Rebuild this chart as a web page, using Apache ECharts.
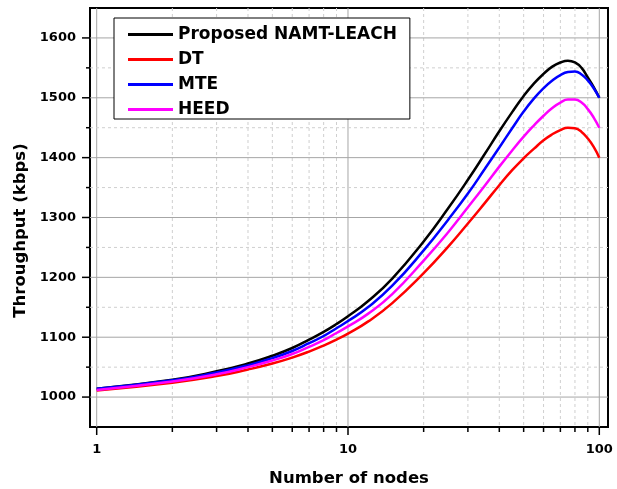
<!DOCTYPE html>
<html>
<head>
<meta charset="utf-8">
<title>Throughput vs number of nodes</title>
<script src="https://cdn.jsdelivr.net/npm/echarts@6/dist/echarts.min.js"></script>
<style>
  html, body { margin: 0; padding: 0; background: #fff; }
  #chart { width: 617px; height: 489px; }
</style>
</head>
<body>
<div id="chart"></div>
<script>
// Number of nodes (x, log scale)
const nodes = [1, 2, 3, 4, 5, 6, 7, 8, 9, 10, 12, 15, 20, 25, 30, 35, 40, 45, 50, 55, 60, 65, 70, 75, 80, 85, 90, 95, 100];

// Throughput (kbps) per protocol
const namtLeach = [1014, 1029, 1043, 1056, 1069, 1082, 1096, 1109, 1122, 1135, 1160, 1198, 1260, 1315, 1363, 1406, 1444, 1476, 1503, 1524, 1540, 1552, 1559, 1562, 1559, 1550, 1534, 1518, 1500];
const dt        = [1011, 1024, 1035, 1046, 1056, 1066, 1076, 1086, 1096, 1106, 1126, 1157, 1207, 1251, 1290, 1324, 1354, 1379, 1399, 1415, 1429, 1439, 1446, 1450, 1449, 1443, 1432, 1418, 1400];
const mte       = [1014, 1028, 1041, 1053, 1065, 1077, 1090, 1102, 1115, 1127, 1150, 1186, 1245, 1296, 1340, 1381, 1417, 1449, 1477, 1499, 1516, 1529, 1538, 1543, 1544, 1539, 1529, 1516, 1500];
const heed      = [1012, 1026, 1038, 1050, 1061, 1072, 1084, 1095, 1107, 1118, 1139, 1172, 1228, 1275, 1317, 1353, 1385, 1412, 1435, 1454, 1470, 1483, 1492, 1497, 1497, 1492, 1481, 1467, 1450];

const seriesNames = ['Proposed NAMT-LEACH', 'DT', 'MTE', 'HEED'];

// Tick positions
const xMajorTicks = [1, 10, 100];
const xMinorTicks = [2, 3, 4, 5, 6, 7, 8, 9, 20, 30, 40, 50, 60, 70, 80, 90];
const yMajorTicks = [1000, 1100, 1200, 1300, 1400, 1500, 1600];
const yMinorTicks = [1050, 1150, 1250, 1350, 1450, 1550];

const FONT = 'DejaVu Sans';
const MAJOR_GRID = '#a6a6a6';
const MINOR_GRID = '#cfcfcf';

function pairs(xs, ys) { return xs.map((x, i) => [x, ys[i]]); }

// Vertical grid line + downward tick at an x value
function xGridRenderer(dashed, tickLen) {
  return function (params, api) {
    const cs = params.coordSys;
    const x = api.coord([api.value(0), 1000])[0];
    const bottom = cs.y + cs.height;
    return {
      type: 'group',
      children: [
        { type: 'line', shape: { x1: x, y1: cs.y, x2: x, y2: bottom },
          style: { stroke: dashed ? MINOR_GRID : MAJOR_GRID, lineWidth: 1, lineDash: dashed ? [3, 3] : null } },
        { type: 'line', shape: { x1: x, y1: bottom, x2: x, y2: bottom + tickLen },
          style: { stroke: '#000', lineWidth: 1.5 } }
      ]
    };
  };
}

// Horizontal grid line + leftward tick at a y value
function yGridRenderer(dashed, tickLen) {
  return function (params, api) {
    const cs = params.coordSys;
    const y = api.coord([1, api.value(1)])[1];
    return {
      type: 'group',
      children: [
        { type: 'line', shape: { x1: cs.x, y1: y, x2: cs.x + cs.width, y2: y },
          style: { stroke: dashed ? MINOR_GRID : MAJOR_GRID, lineWidth: 1, lineDash: dashed ? [3, 3] : null } },
        { type: 'line', shape: { x1: cs.x - tickLen, y1: y, x2: cs.x, y2: y },
          style: { stroke: '#000', lineWidth: 1.5 } }
      ]
    };
  };
}

function gridSeries(data, renderer) {
  return { type: 'custom', renderItem: renderer, data: data, z: 1, silent: true, clip: false, legendHoverLink: false, tooltip: { show: false } };
}

function curve(name, values, color) {
  return {
    name: name, type: 'line', data: pairs(nodes, values), smooth: true,
    symbol: 'none', z: 5, lineStyle: { color: color, width: 2.5 }, itemStyle: { color: color }
  };
}

const chart = echarts.init(document.getElementById('chart'), null, { renderer: 'canvas' });

chart.setOption({
  animation: false,
  backgroundColor: '#fff',
  grid: {
    left: 90, right: 9, top: 8, bottom: 62, outerBoundsMode: 'none',
    show: true, borderColor: '#000', borderWidth: 2, backgroundColor: 'transparent'
  },
  legend: {
    data: seriesNames, orient: 'vertical', left: 114, top: 18,
    icon: 'rect', itemWidth: 45, itemHeight: 3, itemGap: 8,
    padding: [8, 13, 1, 14], borderColor: '#000', borderWidth: 1, backgroundColor: '#fff',
    textStyle: { fontFamily: FONT, fontWeight: 'bold', fontSize: 17, color: '#000' }
  },
  xAxis: {
    type: 'log', logBase: 10, min: 0.9405, max: 108.3,
    name: 'Number of nodes', nameLocation: 'middle', nameGap: 43,
    nameTextStyle: { fontFamily: FONT, fontWeight: 'bold', fontSize: 16.5, color: '#000' },
    axisLine: { lineStyle: { color: '#000', width: 2 } },
    axisTick: { show: false }, splitLine: { show: false },
    axisLabel: {
      margin: 16, fontFamily: FONT, fontWeight: 'bold', fontSize: 13, color: '#000',
      formatter: function (v) {
        const l = Math.log10(v);
        return Math.abs(l - Math.round(l)) < 1e-6 ? String(Math.round(v)) : '';
      }
    }
  },
  yAxis: {
    type: 'value', min: 950, max: 1650, interval: 50,
    name: 'Throughput (kbps)', nameLocation: 'middle', nameGap: 57,
    nameTextStyle: { fontFamily: FONT, fontWeight: 'bold', fontSize: 16.5, color: '#000', padding: [0, 26, 0, 0] },
    axisLine: { show: true, lineStyle: { color: '#000', width: 2 } },
    axisTick: { show: false }, splitLine: { show: false },
    axisLabel: {
      margin: 14, fontFamily: FONT, fontWeight: 'bold', fontSize: 13, color: '#000',
      formatter: function (v) { return v % 100 === 0 ? String(v) : ''; }
    }
  },
  series: [
    gridSeries(xMinorTicks.map(v => [v, 1000]), xGridRenderer(true, 5)),
    gridSeries(xMajorTicks.map(v => [v, 1000]), xGridRenderer(false, 8)),
    gridSeries(yMinorTicks.map(v => [1, v]), yGridRenderer(true, 4)),
    gridSeries(yMajorTicks.map(v => [1, v]), yGridRenderer(false, 8)),
    curve(seriesNames[0], namtLeach, '#000000'),
    curve(seriesNames[1], dt, '#ff0000'),
    curve(seriesNames[2], mte, '#0000ff'),
    curve(seriesNames[3], heed, '#ff00ff')
  ]
});
</script>
</body>
</html>
